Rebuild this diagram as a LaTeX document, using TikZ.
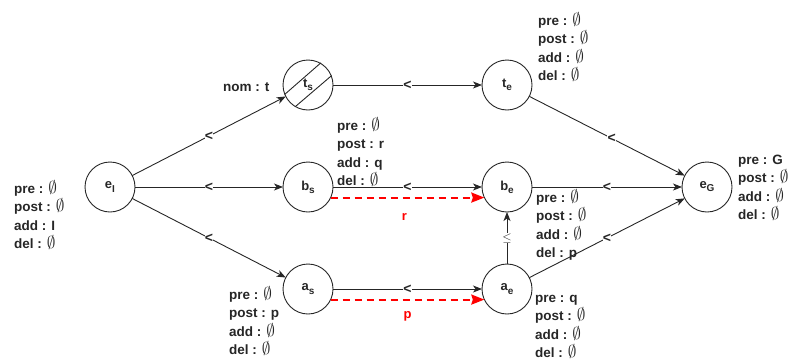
\documentclass[tikz,border=0pt]{standalone}
\usepackage{fontspec}
\setmainfont{Liberation Sans}
\usetikzlibrary{arrows.meta}
\newcommand\myes{\scalebox{1.2}{$\emptyset$}}
\newcommand\nsub[2]{#1\raisebox{-0.45ex}{\fontsize{10}{10}\selectfont #2}}
\begin{document}
\begin{tikzpicture}[x=1pt,y=-1pt,
  st/.style={circle,draw=black!85,line width=0.9pt,minimum size=50pt,inner sep=0pt,outer sep=0pt,
    font=\fontsize{13}{13}\selectfont\bfseries,text=black!85},
  edge/.style={draw=black!85,line width=0.9pt,-{Stealth[length=9pt,width=7pt,inset=2.5pt]}},
  mid/.style={fill=white,inner sep=0.4pt,font=\fontsize{14}{14}\selectfont\bfseries,text=black!85},
  info/.style={anchor=west,align=left,inner sep=0pt,
    font=\fontsize{13.5}{18.5}\selectfont\bfseries,text=black!85},
  redarr/.style={draw=red,line width=2pt,dash pattern=on 7pt off 5pt,
    -{Stealth[length=13pt,width=10pt,inset=1.5pt,fill=red]}},
  redlab/.style={text=red,font=\fontsize{13}{13}\selectfont\bfseries,inner sep=0pt},
  hatch/.style={draw=black!85,line width=0.9pt}]
\useasboundingbox (0,0) rectangle (791,362);

% states
\node[st] (eI) at (110,187) {\nsub{e}{I}};
\node[st] (ts) at (308,85) {\nsub{t}{s}};
\node[st] (te) at (507,85) {\nsub{t}{e}};
\node[st] (bs) at (308,187) {\nsub{b}{s}};
\node[st] (be) at (507,187) {\nsub{b}{e}};
\node[st] (as) at (308,289) {\nsub{a}{s}};
\node[st] (ae) at (507,289) {\nsub{a}{e}};
\node[st] (eG) at (707,187) {\nsub{e}{G}};

% hatch of t_s
\coordinate (h1a) at (284.6,94.5);
\coordinate (h1b) at (320.9,62.8);
\coordinate (h2a) at (295.1,106.8);
\coordinate (h2b) at (331.6,75.6);
\draw[hatch] (h1a) -- (h1b);
\draw[hatch] (h2a) -- (h2b);

% edges
\draw[edge] (eI) -- node[mid]{<} (ts);
\draw[edge] (eI) -- node[mid]{<} (bs);
\draw[edge] (eI) -- node[mid]{<} (as);
\draw[edge] (ts) -- node[mid]{<} (te);
\draw[edge] (bs) -- node[mid]{<} (be);
\draw[edge] (as) -- node[mid]{<} (ae);
\draw[edge] (te) -- node[mid,pos=0.53]{<} (eG);
\draw[edge] (be) -- node[mid]{<} (eG);
\draw[edge] (ae) -- node[mid]{<} (eG);
\draw[edge] (ae) -- node[mid,font=\fontsize{13}{13}\selectfont]{$\leq$} (be);

% causal links
\draw[redarr] (bs.-25) -- node[redlab,yshift=-19pt,xshift=-3pt]{r} (be.-155);
\draw[redarr] (as.-25) -- node[redlab,yshift=-17pt]{p} (ae.-155);

% annotations
\node[info] (nom) at (223,87) {nom : t};
\node[info] (iI) at (14,215) {pre : \myes\\post : \myes\\add : I\\del : \myes};
\node[info] (ite) at (538,47) {pre : \myes\\post : \myes\\add : \myes\\del : \myes};
\node[info] (ib) at (337,152) {pre : \myes\\post : r\\add : q\\del : \myes};
\node[info] (ibe) at (536,225) {pre : \myes\\post : \myes\\add : \myes\\del : p};
\node[info] (iG) at (738,188) {pre : G\\post : \myes\\add : \myes\\del : \myes};
\node[info] (ias) at (229,321) {pre : \myes\\post : p\\add : \myes\\del : \myes};
\node[info] (iae) at (535,327) {pre : q\\post : \myes\\add : \myes\\del : \myes};
\end{tikzpicture}
\end{document}
